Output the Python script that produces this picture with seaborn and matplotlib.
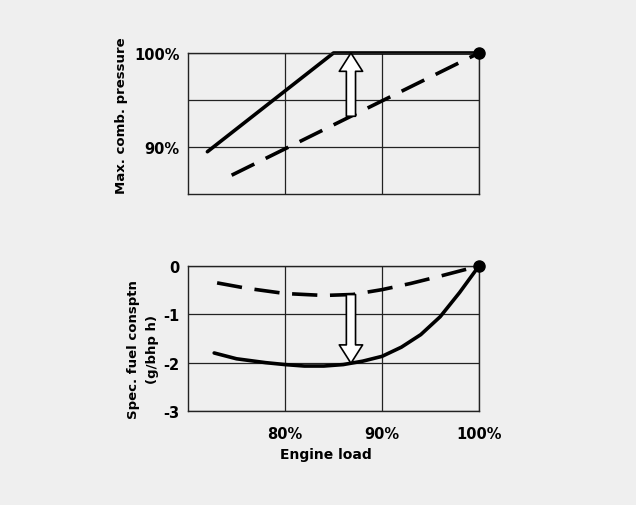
import matplotlib
matplotlib.use("Agg")
from matplotlib import pyplot as plt
import matplotlib.patches as mpatches
import numpy as np
import seaborn as sns

# Engine load (%) and max combustion pressure (%)
press_load_new = [72, 85, 100]
press_new = [89.5, 100, 100]
press_load_old = [74.5, 100]
press_old = [87.0, 100]

# Engine load (%) and change in specific fuel consumption (g/bhp h)
sfc_load_old = [73, 76, 80, 84, 87, 90, 93, 96, 100]
sfc_old = [-0.35, -0.46, -0.57, -0.61, -0.59, -0.49, -0.36, -0.21, 0.0]
sfc_load_new = [72.7, 75, 78, 80, 82, 84, 86, 88, 90, 92, 94, 96, 98, 100]
sfc_new = [-1.8, -1.92, -2.0, -2.04, -2.07, -2.07, -2.04, -1.97, -1.87, -1.68, -1.42, -1.05, -0.55, 0.0]

arrow_load = 86.8
xticks = [80, 90, 100]
xtick_labels = ["80%", "90%", "100%"]

bg = "#efefef"
sns.set_style("white", {"axes.facecolor": bg, "figure.facecolor": bg,
                        "axes.edgecolor": "black", "text.color": "black",
                        "axes.labelcolor": "black", "xtick.color": "black",
                        "ytick.color": "black"})
plt.rcParams['font.family'] = ['DejaVu Sans']
plt.rcParams['font.weight'] = 'bold'

fig = plt.figure(figsize=(6.36, 5.06), dpi=100)
ax1 = fig.add_axes([0.2956, 0.6146, 0.4575, 0.2787])
ax2 = fig.add_axes([0.2956, 0.1858, 0.4575, 0.2866])

dash = (7, 3.5)
lw = 2.6
arrow_style = "simple,head_length=1.1,head_width=1.4,tail_width=0.55"

# top panel
sns.lineplot(x=press_load_new, y=press_new, ax=ax1, color="black", lw=lw,
             clip_on=False)
sns.lineplot(x=press_load_old, y=press_old, ax=ax1, color="black", lw=lw,
             linestyle=(0, dash))
ax1.plot([100], [100], "o", color="black", ms=8, clip_on=False, zorder=5)
ax1.set_xlim(70, 100)
ax1.set_ylim(85, 100)
ax1.set_xticks(xticks)
ax1.set_xticklabels([])
ax1.set_yticks([90, 95, 100])
ax1.set_yticklabels(["90%", "", "100%"])
ax1.set_ylabel("Max. comb. pressure", fontsize=9.5, fontweight="bold")
ax1.yaxis.set_label_coords(-0.205, 0.56)

y_from = np.interp(arrow_load, press_load_old, press_old)
ax1.add_patch(mpatches.FancyArrowPatch(
    (arrow_load, y_from), (arrow_load, 100), arrowstyle=arrow_style,
    mutation_scale=12, fc="white", ec="black", lw=1.2,
    shrinkA=0, shrinkB=0, zorder=4))

# bottom panel
sns.lineplot(x=sfc_load_old, y=sfc_old, ax=ax2, color="black", lw=lw,
             linestyle=(0, dash), clip_on=False)
sns.lineplot(x=sfc_load_new, y=sfc_new, ax=ax2, color="black", lw=lw,
             clip_on=False)
ax2.plot([100], [0], "o", color="black", ms=8, clip_on=False, zorder=5)
ax2.set_xlim(70, 100)
ax2.set_ylim(-3, 0)
ax2.set_xticks(xticks)
ax2.set_xticklabels(xtick_labels)
ax2.set_yticks([0, -1, -2, -3])
ax2.set_yticklabels(["0", "-1", "-2", "-3"])
ax2.set_xlabel("Engine load", fontsize=10, fontweight="bold", labelpad=7)
ax2.xaxis.set_label_coords(0.475, -0.25)
ax2.set_ylabel("Spec. fuel consptn\n(g/bhp h)", fontsize=9.5, fontweight="bold",
               linespacing=1.55)
ax2.yaxis.set_label_coords(-0.1, 0.43)

y_top = np.interp(arrow_load, sfc_load_old, sfc_old)
y_bot = np.interp(arrow_load, sfc_load_new, sfc_new)
ax2.add_patch(mpatches.FancyArrowPatch(
    (arrow_load, y_top), (arrow_load, y_bot), arrowstyle=arrow_style,
    mutation_scale=12, fc="white", ec="black", lw=1.2,
    shrinkA=0, shrinkB=0, zorder=4))

for ax in (ax1, ax2):
    ax.grid(True, color="#222222", lw=0.9)
    ax.set_axisbelow(True)
    for s in ax.spines.values():
        s.set_linewidth(1.0)
        s.set_color("#222222")
    ax.tick_params(length=0, labelsize=10.5, pad=6, colors="black")
    ax.tick_params(axis="x", pad=10.5)
    for lab in ax.get_xticklabels() + ax.get_yticklabels():
        lab.set_fontweight("bold")

fig.savefig("out.png", dpi=100, facecolor=bg)
